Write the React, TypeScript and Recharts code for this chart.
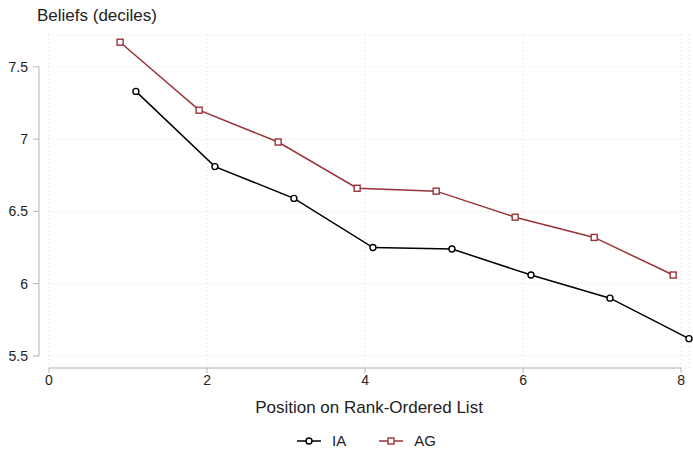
import { LineChart, Line, XAxis, YAxis, CartesianGrid, ReferenceLine } from 'recharts'

const positions = [1, 2, 3, 4, 5, 6, 7, 8]
const iaBeliefs = [7.33, 6.81, 6.59, 6.25, 6.24, 6.06, 5.9, 5.62]
const agBeliefs = [7.67, 7.2, 6.98, 6.66, 6.64, 6.46, 6.32, 6.06]
const xTicks = [0, 2, 4, 6, 8]
const yTicks = [5.5, 6, 6.5, 7, 7.5]

const FONT = '"Liberation Sans", Arial, Helvetica, sans-serif'
const AXIS = '#b4b4b4'
const RED = '#993339'
const Y_MIN = 5.417
const Y_MAX = 7.72

// small horizontal dodge so the two series don't overlap
const iaData = positions.map((p, i) => ({ x: p + 0.1, y: iaBeliefs[i] }))
const agData = positions.map((p, i) => ({ x: p - 0.1, y: agBeliefs[i] }))

const YTick = (props: any) => {
  const { x, y, payload } = props
  return (
    <g>
      <line x1={x - 16} x2={x - 10} y1={y} y2={y} stroke={AXIS} />
      <text x={x - 21} y={y} dy={5} textAnchor="end" fontSize={14} fontFamily={FONT} fill="#222">
        {String(payload.value)}
      </text>
    </g>
  )
}

const SquareDot = (props: any) => {
  const { cx, cy, index } = props
  if (cx == null || cy == null) return null
  return <rect key={index} x={cx - 3} y={cy - 3} width={6} height={6} fill="#fff" stroke={RED} strokeWidth={1.4} />
}

function LegendItem({ label, color, square }: { label: string; color: string; square?: boolean }) {
  return (
    <span style={{ display: 'inline-flex', alignItems: 'center', marginRight: 33 }}>
      <svg width={24} height={10}>
        <line x1={0} x2={24} y1={5} y2={5} stroke={color} strokeWidth={1.5} />
        {square ? (
          <rect x={9} y={2} width={6} height={6} fill="#fff" stroke={color} strokeWidth={1.4} />
        ) : (
          <circle cx={12} cy={5} r={3} fill="#fff" stroke={color} strokeWidth={1.4} />
        )}
      </svg>
      <span style={{ marginLeft: 11, fontSize: 15 }}>{label}</span>
    </span>
  )
}

export default function App() {
  return (
    <div style={{ position: 'absolute', left: 0, top: 0, width: 693, height: 451, background: '#fff', fontFamily: FONT, color: '#222' }}>
      <div style={{ position: 'absolute', left: 37, top: 6, fontSize: 17 }}>Beliefs (deciles)</div>
      <LineChart width={693} height={451} margin={{ top: 35, right: 4, bottom: 0, left: 0 }}>
        <CartesianGrid stroke="#dcdcdc" strokeDasharray="1 3" />
        <XAxis
          type="number"
          dataKey="x"
          domain={[0, 8.1]}
          ticks={xTicks}
          height={83}
          axisLine={false}
          tickLine={{ stroke: AXIS }}
          tickSize={5}
          tick={{ fontSize: 14, fontFamily: FONT, fill: '#222' }}
        />
        <YAxis
          type="number"
          domain={[Y_MIN, Y_MAX]}
          ticks={yTicks}
          width={49}
          axisLine={false}
          tickLine={false}
          tickSize={0}
          tickMargin={0}
          tick={<YTick />}
        />
        <ReferenceLine segment={[{ x: 0, y: Y_MIN }, { x: 8, y: Y_MIN }]} stroke={AXIS} ifOverflow="visible" />
        <ReferenceLine segment={[{ x: -0.127, y: 5.5 }, { x: -0.127, y: 7.5 }]} stroke={AXIS} ifOverflow="visible" />
        <Line
          data={iaData}
          dataKey="y"
          stroke="#000"
          strokeWidth={1.5}
          dot={{ r: 3, fill: '#fff', stroke: '#000', strokeWidth: 1.4 }}
          isAnimationActive={false}
        />
        <Line
          data={agData}
          dataKey="y"
          stroke={RED}
          strokeWidth={1.5}
          dot={<SquareDot />}
          isAnimationActive={false}
        />
      </LineChart>
      <div style={{ position: 'absolute', left: 0, top: 398, width: 738, textAlign: 'center', fontSize: 17 }}>
        Position on Rank-Ordered List
      </div>
      <div style={{ position: 'absolute', left: 297, top: 432, display: 'flex' }}>
        <LegendItem label="IA" color="#000" />
        <LegendItem label="AG" color={RED} square />
      </div>
    </div>
  )
}
